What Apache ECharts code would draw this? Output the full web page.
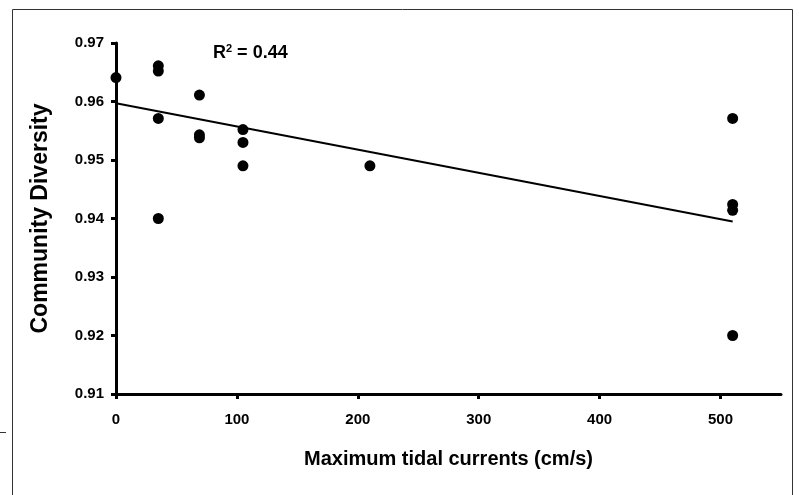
<!DOCTYPE html>
<html>
<head>
<meta charset="utf-8">
<script src="https://cdn.jsdelivr.net/npm/echarts@6/dist/echarts.min.js"></script>
<style>html,body{margin:0;padding:0;background:#fff;}#c{width:799px;height:495px;}</style>
</head>
<body>
<div id="c"></div>
<script>
// Data
const xTicks = [0, 100, 200, 300, 400, 500];
const tidalCurrents = [0, 35, 35, 35, 35, 69, 69, 69, 105, 105, 105, 210, 510, 510, 510, 510];
const diversity = [0.9641, 0.9661, 0.9652, 0.9571, 0.9400, 0.9611, 0.9543, 0.9538, 0.9552, 0.9530, 0.9490, 0.9490, 0.9571, 0.9424, 0.9414, 0.9200];
const fitX = [0, 510];
const fitY = [0.9597, 0.9395];
const rSquared = '0.44';

const points = tidalCurrents.map((x, i) => [x, diversity[i]]);
const fitLine = fitX.map((x, i) => [x, fitY[i]]);

const chart = echarts.init(document.getElementById('c'), null, {renderer: 'canvas'});
const font = 'Liberation Sans, Arial, sans-serif';
chart.setOption({
  animation: false,
  backgroundColor: '#fff',
  grid: {left: 116, right: 18, top: 43, bottom: 101},
  xAxis: {
    type: 'value', min: 0, max: 550, interval: 100,
    name: 'Maximum tidal currents (cm/s)', nameLocation: 'middle', nameGap: 55,
    nameTextStyle: {fontFamily: font, fontWeight: 'bold', fontSize: 20, color: '#000'},
    axisLine: {show: true, lineStyle: {color: '#000', width: 3}},
    axisTick: {show: true, length: 5, lineStyle: {color: '#000', width: 3}, customValues: xTicks},
    axisLabel: {fontFamily: font, fontWeight: 'bold', fontSize: 15, color: '#000', margin: 18, customValues: xTicks},
    splitLine: {show: false}
  },
  yAxis: {
    type: 'value', min: 0.91, max: 0.97, interval: 0.01,
    name: 'Community Diversity', nameLocation: 'middle', nameGap: 64,
    nameTextStyle: {fontFamily: font, fontWeight: 'bold', fontSize: 23, color: '#000'},
    axisLine: {show: true, lineStyle: {color: '#000', width: 3}},
    axisTick: {show: true, length: 5, lineStyle: {color: '#000', width: 3}},
    axisLabel: {fontFamily: font, fontWeight: 'bold', fontSize: 15, color: '#000', margin: 12,
      formatter: v => v.toFixed(2)},
    splitLine: {show: false}
  },
  series: [
    {
      type: 'line', data: fitLine, showSymbol: false, symbol: 'none',
      lineStyle: {color: '#000', width: 2}, z: 2
    },
    {
      type: 'scatter', data: points, symbol: 'circle', symbolSize: 11,
      itemStyle: {color: '#000', opacity: 1}, z: 3
    }
  ],
  graphic: [
    {type: 'rect', shape: {x: 12.5, y: 9.5, width: 780, height: 520},
      style: {fill: 'none', stroke: '#333', lineWidth: 1}, silent: true},
    {type: 'line', shape: {x1: 0, y1: 432.5, x2: 6, y2: 432.5},
      style: {stroke: '#333', lineWidth: 1}, silent: true},
    {type: 'text', left: 213, top: 43,
      style: {text: '{r|R}{s|2}{r| = ' + rSquared + '}',
        rich: {
          r: {fontFamily: font, fontWeight: 'bold', fontSize: 18, fill: '#000', verticalAlign: 'bottom'},
          s: {fontFamily: font, fontWeight: 'bold', fontSize: 11, fill: '#000', verticalAlign: 'top', padding: [0, 0, 8, 0]}
        }}}
  ]
});
</script>
</body>
</html>
